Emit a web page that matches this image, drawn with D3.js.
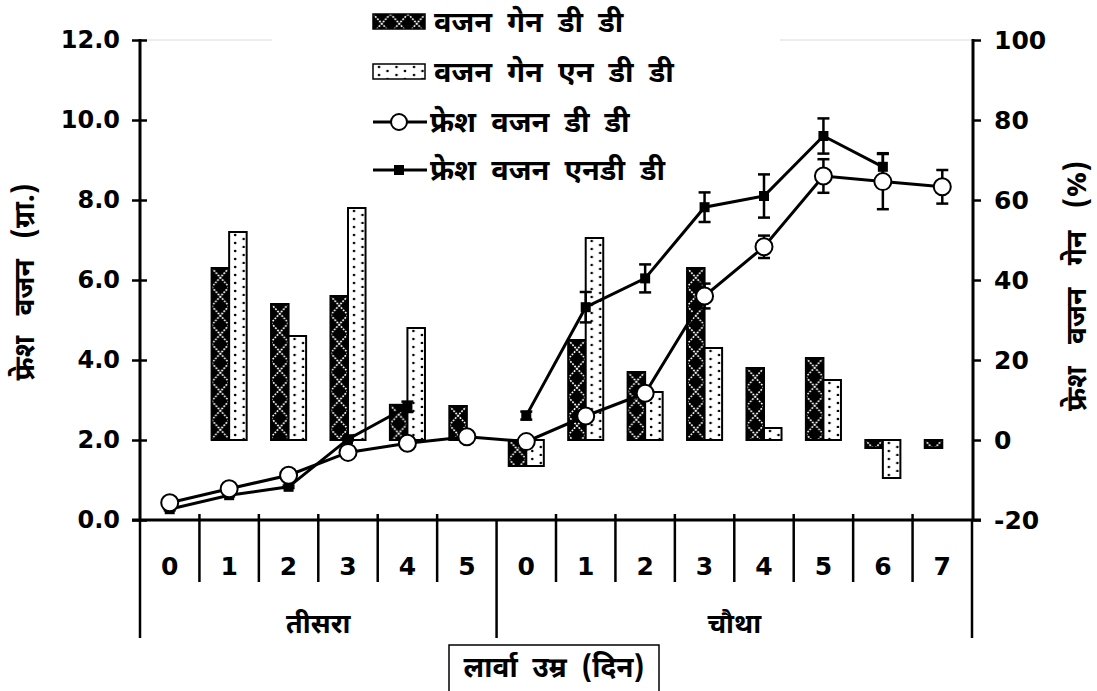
<!DOCTYPE html>
<html>
<head>
<meta charset="utf-8">
<script src="https://cdn.jsdelivr.net/npm/d3@7"></script>
<style>
  html, body { margin: 0; padding: 0; background: #fff; }
  svg { display: block; }
  .num { font-family: "DejaVu Sans", Verdana, sans-serif; font-weight: bold; }
  .hin { font-family: "Noto Sans Devanagari", "Lohit Devanagari", "Mangal", "Noto Sans", sans-serif; font-weight: bold; }
</style>
</head>
<body>
<svg id="chart" width="1097" height="691"></svg>
<script>
// Larval age (days) within each instar
const categories = ['0','1','2','3','4','5','0','1','2','3','4','5','6','7'];
const instarNames = ['तीसरा', 'चौथा'];
const instarDays = [6, 8];

// Fresh weight gain (%) – right axis
const gainDD  = [0, 43, 34, 36, 8.8, 8.5, -6.5, 25, 17, 43, 18, 20.5, -2, -2];
const gainNDD = [0, 52, 26, 58, 28, null, -6.5, 50.5, 12, 23, 3, 15, -9.5, null];

// Fresh weight (g) – left axis, with standard errors
const freshDD     = [0.43, 0.78, 1.12, 1.69, 1.92, 2.08, 1.96, 2.6, 3.17, 5.6, 6.83, 8.6, 8.46, 8.33];
const freshDDErr  = [0.03, 0.03, 0.03, 0.05, 0.05, 0.05, 0.05, 0.08, 0.08, 0.31, 0.28, 0.42, 0.69, 0.42];
const freshNDD    = [0.27, 0.62, 0.83, 2.02, 2.83, null, 2.61, 5.32, 6.04, 7.82, 8.1, 9.6, 8.83, null];
const freshNDDErr = [0.03, 0.03, 0.03, 0.03, 0.13, null, 0.1, 0.38, 0.35, 0.37, 0.54, 0.44, 0.34, null];

const leftTicks  = [0, 2, 4, 6, 8, 10, 12];
const rightTicks = [-20, 0, 20, 40, 60, 80, 100];

const legendLabels = ['वजन  गेन  डी  डी', 'वजन  गेन  एन  डी  डी', 'फ्रेश  वजन  डी  डी', 'फ्रेश  वजन  एनडी  डी'];
const yLeftTitle  = 'फ्रेश  वजन  (ग्रा.)';
const yRightTitle = 'फ्रेश  वजन  गेन  (%)';
const xTitle      = 'लार्वा  उम्र  (दिन)';

const svg = d3.select('#chart');
const L = 140, R = 972, T = 40, B = 520;

const x = d3.scaleBand().domain(d3.range(categories.length)).range([L, R]);
const bw = x.bandwidth();
const sub = d3.scaleBand().domain(['dd', 'ndd']).range([bw * 0.205, bw * 0.795]);
const yL = d3.scaleLinear().domain([0, 12]).range([B, T]);
const yR = d3.scaleLinear().domain([-20, 100]).range([B, T]);

// Fill patterns
const defs = svg.append('defs');
const pDD = defs.append('pattern').attr('id', 'patDD').attr('patternUnits', 'userSpaceOnUse')
  .attr('width', 17.5).attr('height', 19);
pDD.append('rect').attr('width', 17.5).attr('height', 19).attr('fill', '#000');
pDD.append('path').attr('d', 'M0,0L17.5,19M17.5,0L0,19')
  .attr('stroke', '#fff').attr('stroke-width', 1.6).attr('stroke-dasharray', '1.8,1.3').attr('fill', 'none');
const pND = defs.append('pattern').attr('id', 'patNDD').attr('patternUnits', 'userSpaceOnUse')
  .attr('width', 17.5).attr('height', 16);
pND.append('rect').attr('width', 17.5).attr('height', 16).attr('fill', '#fff');
[[6, 3], [14.5, 7], [6, 11], [14.5, 15]].forEach(([cx, cy]) =>
  pND.append('circle').attr('cx', cx).attr('cy', cy).attr('r', 1.3).attr('fill', '#000'));

// Faint plot frame top, interrupted behind the legend
svg.append('line').attr('x1', L).attr('x2', R).attr('y1', T).attr('y2', T)
  .attr('stroke', '#dcdcdc').attr('stroke-width', 1);
svg.append('rect').attr('x', 272).attr('y', 0).attr('width', 508).attr('height', 46).attr('fill', '#fff');

// Bars (gain %, right axis); each bar drawn in its own group so patterns align
const barSeries = [{key: 'dd', vals: gainDD, fill: 'url(#patDD)'}, {key: 'ndd', vals: gainNDD, fill: 'url(#patNDD)'}];
const barsG = svg.append('g');
barSeries.forEach(s => {
  s.vals.forEach((v, i) => {
    if (v == null) return;
    const top = Math.min(yR(v), yR(0));
    const h = Math.abs(yR(v) - yR(0));
    barsG.append('g').attr('transform', `translate(${x(i) + sub(s.key)},${top})`)
      .append('rect').attr('width', sub.bandwidth()).attr('height', h)
      .attr('fill', s.fill).attr('stroke', '#000').attr('stroke-width', 2);
  });
});

// Lines (fresh weight, left axis)
const line = d3.line().defined(d => d.v != null).x(d => x(d.i) + bw / 2).y(d => yL(d.v));
const ddPts = freshDD.map((v, i) => ({i, v, e: freshDDErr[i]}));
const ndPts = freshNDD.map((v, i) => ({i, v, e: freshNDDErr[i]}));
[ddPts, ndPts].forEach(pts => svg.append('path').datum(pts).attr('d', line)
  .attr('fill', 'none').attr('stroke', '#000').attr('stroke-width', 3));

// Error bars
const errG = svg.append('g').attr('stroke', '#000').attr('stroke-width', 2.5);
[...ddPts, ...ndPts].filter(d => d.v != null && d.e).forEach(d => {
  const cx = x(d.i) + bw / 2;
  errG.append('line').attr('x1', cx).attr('x2', cx).attr('y1', yL(d.v - d.e)).attr('y2', yL(d.v + d.e));
  [d.v - d.e, d.v + d.e].forEach(yy => errG.append('line')
    .attr('x1', cx - 6).attr('x2', cx + 6).attr('y1', yL(yy)).attr('y2', yL(yy)));
});

// Markers
svg.append('g').selectAll('rect').data(ndPts.filter(d => d.v != null)).join('rect')
  .attr('x', d => x(d.i) + bw / 2 - 5).attr('y', d => yL(d.v) - 5)
  .attr('width', 10).attr('height', 10).attr('fill', '#000');
svg.append('g').selectAll('circle').data(ddPts.filter(d => d.v != null)).join('circle')
  .attr('cx', d => x(d.i) + bw / 2).attr('cy', d => yL(d.v)).attr('r', 8.5)
  .attr('fill', '#fff').attr('stroke', '#000').attr('stroke-width', 2);

// Left axis
const axL = svg.append('g').attr('transform', `translate(${L},0)`)
  .call(d3.axisLeft(yL).tickValues(leftTicks).tickFormat(d3.format('.1f')).tickSize(8).tickPadding(12));
axL.select('.domain').remove();
axL.selectAll('.tick line').attr('x1', 7).attr('stroke-width', 2.5);
axL.selectAll('.tick text').attr('class', 'num').attr('font-size', 24).attr('fill', '#000');
svg.append('line').attr('x1', L).attr('x2', L).attr('y1', T - 1).attr('y2', B + 1)
  .attr('stroke', '#000').attr('stroke-width', 3);

// Right axis
const axR = svg.append('g').attr('transform', `translate(${R + 1},0)`)
  .call(d3.axisRight(yR).tickValues(rightTicks).tickFormat(d => String(d)).tickSize(8).tickPadding(13));
axR.select('.domain').remove();
axR.selectAll('.tick line').attr('stroke-width', 2.5);
axR.selectAll('.tick text').attr('class', 'num').attr('font-size', 25).attr('fill', '#000');
svg.append('line').attr('x1', R + 1).attr('x2', R + 1).attr('y1', T - 1).attr('y2', B + 1)
  .attr('stroke', '#000').attr('stroke-width', 3);

// Bottom axis with category / instar separators
svg.append('line').attr('x1', L - 8).attr('x2', R + 9).attr('y1', B).attr('y2', B)
  .attr('stroke', '#000').attr('stroke-width', 3);
const groupEdges = [0];
instarDays.forEach(n => groupEdges.push(groupEdges[groupEdges.length - 1] + n));
d3.range(categories.length + 1).forEach(k => {
  const xx = L + k * bw;
  const isGroup = groupEdges.includes(k);
  svg.append('line').attr('x1', xx).attr('x2', xx).attr('y1', isGroup ? B : B - 6).attr('y2', isGroup ? 638 : 582)
    .attr('stroke', '#000').attr('stroke-width', 2.5);
});
svg.append('g').selectAll('text').data(categories).join('text')
  .attr('class', 'num').attr('font-size', 25)
  .attr('x', (d, i) => x(i) + bw / 2).attr('y', 566)
  .attr('text-anchor', 'middle').attr('dominant-baseline', 'central').text(d => d);
instarNames.forEach((nm, gi) => {
  const cx = (L + groupEdges[gi] * bw + L + groupEdges[gi + 1] * bw) / 2;
  svg.append('text').attr('class', 'hin').attr('font-size', 27)
    .attr('x', cx).attr('y', 626).attr('text-anchor', 'middle').attr('dominant-baseline', 'central').text(nm);
});

// X title in a box
svg.append('rect').attr('x', 449).attr('y', 645).attr('width', 210).attr('height', 60)
  .attr('fill', '#fff').attr('stroke', '#000').attr('stroke-width', 1.5);
svg.append('text').attr('class', 'hin').attr('font-size', 28).style('white-space', 'pre')
  .attr('x', 554).attr('y', 670).attr('text-anchor', 'middle').attr('dominant-baseline', 'central').text(xTitle);

// Y titles
svg.append('text').attr('class', 'hin').attr('font-size', 28).style('white-space', 'pre')
  .style('word-spacing', '3px')
  .attr('transform', 'translate(27,282) rotate(-90)').attr('text-anchor', 'middle')
  .attr('dominant-baseline', 'central').text(yLeftTitle);
svg.append('text').attr('class', 'hin').attr('font-size', 28).style('white-space', 'pre')
  .style('word-spacing', '4px')
  .attr('transform', 'translate(1079,286) rotate(-90)').attr('text-anchor', 'middle')
  .attr('dominant-baseline', 'central').text(yRightTitle);

// Legend
const lg = svg.append('g');
const rowY = [22, 72, 122, 170];
['url(#patDD)', 'url(#patNDD)'].forEach((f, k) => {
  lg.append('g').attr('transform', `translate(373,${rowY[k] - 8})`)
    .append('rect').attr('width', 52).attr('height', 15).attr('fill', f)
    .attr('stroke', '#000').attr('stroke-width', 1.5);
});
[2, 3].forEach(k => lg.append('line').attr('x1', 373).attr('x2', 427).attr('y1', rowY[k]).attr('y2', rowY[k])
  .attr('stroke', '#000').attr('stroke-width', 3));
lg.append('circle').attr('cx', 399).attr('cy', rowY[2]).attr('r', 8)
  .attr('fill', '#fff').attr('stroke', '#000').attr('stroke-width', 2);
lg.append('rect').attr('x', 394).attr('y', rowY[3] - 5).attr('width', 10).attr('height', 10).attr('fill', '#000');
legendLabels.forEach((t, k) => lg.append('text').attr('class', 'hin').attr('font-size', 29)
  .style('white-space', 'pre').attr('x', k < 2 ? 434 : 430).attr('y', rowY[k] + 3)
  .attr('dominant-baseline', 'central').text(t));
</script>
</body>
</html>
